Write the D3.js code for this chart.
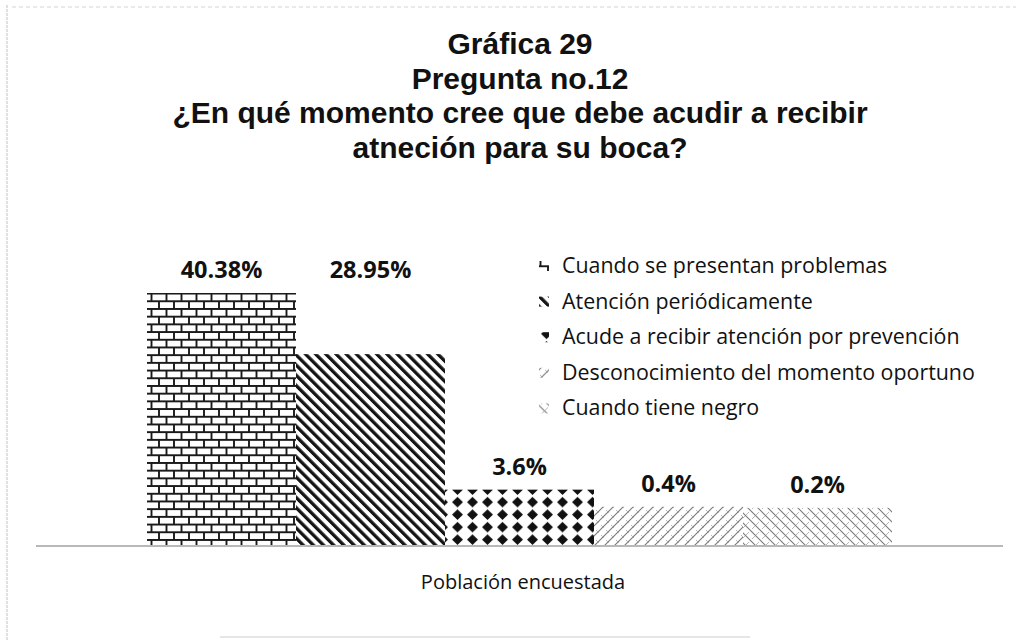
<!DOCTYPE html>
<html lang="es">
<head>
    <meta charset="UTF-8">
    <title>Gráfica 29</title>
    <style>
        body { margin: 0; background: #fff; }
        #graphArea { width: 1026px; height: 640px; }
    </style>
</head>
<body>
    <div id="graphArea"></div>
    <script src="https://d3js.org/d3.v7.min.js"></script>
    <script>
        // chart data
        const titleLines = ["Gráfica 29", "Pregunta no.12", "¿En qué momento cree que debe acudir a recibir", "atneción para su boca?"];
        const categories = ["Cuando se presentan problemas", "Atención periódicamente", "Acude a recibir atención por prevención", "Desconocimiento del momento oportuno", "Cuando tiene negro"];
        const values = [40.38, 28.95, 3.6, 0.4, 0.2];
        const valueLabels = ["40.38%", "28.95%", "3.6%", "0.4%", "0.2%"];
        const axisLabel = "Población encuestada";
        // the value axis of the original does not start at zero
        const axisMin = -6.94;

        const width = 1026;
        const height = 640;
        const baseY = 546;

        const svg = d3.select("#graphArea")
            .append("svg")
            .attr("width", width)
            .attr("height", height);

        const defs = svg.append("defs");

        // brick fill
        const brick = defs.append("pattern")
            .attr("id", "p0")
            .attr("patternUnits", "userSpaceOnUse")
            .attr("width", 15)
            .attr("height", 15.4);
        brick.append("rect").attr("width", 15).attr("height", 15.4).attr("fill", "#fff");
        brick.append("path")
            .attr("d", "M0,1H15M0,8.7H15M1.5,1V8.7M9,8.7V16.4")
            .attr("stroke", "#1a1a1a")
            .attr("stroke-width", 1.9)
            .attr("fill", "none");

        // heavy downward diagonal
        const diag = defs.append("pattern")
            .attr("id", "p1")
            .attr("patternUnits", "userSpaceOnUse")
            .attr("width", 7.2)
            .attr("height", 10)
            .attr("patternTransform", "rotate(-45)");
        diag.append("rect").attr("width", 7.2).attr("height", 10).attr("fill", "#fff");
        diag.append("rect").attr("width", 3.3).attr("height", 10).attr("fill", "#141414");

        // diamonds
        const diamond = defs.append("pattern")
            .attr("id", "p2")
            .attr("patternUnits", "userSpaceOnUse")
            .attr("width", 15)
            .attr("height", 12.5);
        diamond.append("rect").attr("width", 15).attr("height", 12.5).attr("fill", "#fff");
        diamond.append("path")
            .attr("d", "M7.5,0.9L13,6.25L7.5,11.6L2,6.25Z")
            .attr("fill", "#111");

        // light net, upward strokes
        const net1 = defs.append("pattern")
            .attr("id", "p3")
            .attr("patternUnits", "userSpaceOnUse")
            .attr("width", 10)
            .attr("height", 10);
        net1.append("rect").attr("width", 10).attr("height", 10).attr("fill", "#fff");
        net1.append("path")
            .attr("d", "M0,10L10,0M-1,1L1,-1M9,11L11,9")
            .attr("stroke", "#7a7a7a")
            .attr("stroke-width", 1.1);
        net1.append("path")
            .attr("d", "M1,5L4,8M6,0L9,3")
            .attr("stroke", "#b0b0b0")
            .attr("stroke-width", 0.9);

        // light net, downward strokes
        const net2 = defs.append("pattern")
            .attr("id", "p4")
            .attr("patternUnits", "userSpaceOnUse")
            .attr("width", 10)
            .attr("height", 10);
        net2.append("rect").attr("width", 10).attr("height", 10).attr("fill", "#fff");
        net2.append("path")
            .attr("d", "M0,0L10,10M-1,9L1,11M9,-1L11,1")
            .attr("stroke", "#7a7a7a")
            .attr("stroke-width", 1.1);
        net2.append("path")
            .attr("d", "M2,9L5,6M6,5L9,2")
            .attr("stroke", "#b0b0b0")
            .attr("stroke-width", 0.9);

        const x = d3.scaleBand()
            .domain(categories)
            .range([147, 892])
            .padding(0);

        const y = d3.scaleLinear()
            .domain([axisMin, d3.max(values)])
            .range([baseY, 293]);

        // faint scan edges
        svg.append("line")
            .attr("x1", 7).attr("x2", 7)
            .attr("y1", 5).attr("y2", height)
            .attr("stroke", "#d6d6d6")
            .attr("stroke-width", 1.5)
            .attr("stroke-dasharray", "3,1");
        svg.append("line")
            .attr("x1", 12).attr("x2", width - 10)
            .attr("y1", 7).attr("y2", 7)
            .attr("stroke", "#e2e2e2")
            .attr("stroke-width", 1.5)
            .attr("stroke-dasharray", "4,3");
        svg.append("line")
            .attr("x1", 220).attr("x2", 750)
            .attr("y1", 637).attr("y2", 637)
            .attr("stroke", "#e6e6e6")
            .attr("stroke-width", 2);

        // title
        svg.append("text")
            .attr("text-anchor", "middle")
            .style("font-family", "'Liberation Sans', Arial, sans-serif")
            .style("font-weight", "bold")
            .style("font-size", "30px")
            .attr("fill", "#111")
            .selectAll("tspan")
            .data(titleLines)
            .join("tspan")
            .attr("x", 520)
            .attr("y", (d, i) => 54 + i * 34.5)
            .text(d => d);

        // bars
        svg.append("g")
            .selectAll("rect")
            .data(values)
            .join("rect")
            .attr("x", (d, i) => x(categories[i]))
            .attr("y", d => y(d))
            .attr("width", x.bandwidth())
            .attr("height", d => baseY - y(d))
            .attr("fill", (d, i) => `url(#p${i})`);

        diamond.attr("y", y(values[2]) - 6.25);

        // axis line
        svg.append("line")
            .attr("x1", 36).attr("x2", 1003)
            .attr("y1", baseY).attr("y2", baseY)
            .attr("stroke", "#b8b8b8")
            .attr("stroke-width", 2);

        // data labels (the second one was dragged level with the first)
        svg.append("g")
            .selectAll("text")
            .data(valueLabels)
            .join("text")
            .attr("x", (d, i) => x(categories[i]) + x.bandwidth() / 2)
            .attr("y", (d, i) => y(i === 1 ? values[0] : values[i]) - 15)
            .attr("text-anchor", "middle")
            .style("font-family", "'Open Sans', sans-serif")
            .style("font-weight", "bold")
            .style("font-size", "23.5px")
            .attr("fill", "#111")
            .text(d => d);

        // category axis title
        svg.append("text")
            .attr("x", 523)
            .attr("y", 589)
            .attr("text-anchor", "middle")
            .style("font-family", "'Open Sans', sans-serif")
            .style("font-size", "20px")
            .attr("fill", "#111")
            .text(axisLabel);

        // legend
        const legend = svg.append("g")
            .selectAll("g")
            .data(categories)
            .join("g")
            .attr("transform", (d, i) => `translate(539, ${273 + i * 35.6})`);

        legend.append("rect")
            .attr("x", 0)
            .attr("y", -12)
            .attr("width", 10)
            .attr("height", 10)
            .attr("fill", (d, i) => `url(#p${i})`);

        legend.append("text")
            .attr("x", 23)
            .attr("y", 0)
            .style("font-family", "'Open Sans', sans-serif")
            .style("font-size", "21.4px")
            .attr("fill", "#111")
            .text(d => d);
    </script>
</body>
</html>
